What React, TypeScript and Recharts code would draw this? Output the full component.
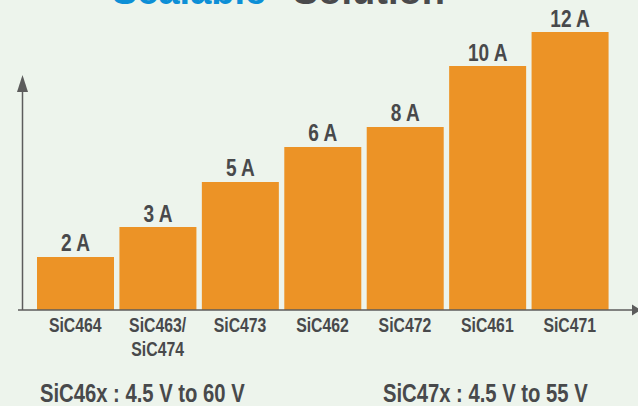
import React from "react";
import { BarChart, Bar, XAxis, YAxis, LabelList } from "recharts";

const categories = ["SiC464", "SiC463/SiC474", "SiC473", "SiC462", "SiC472", "SiC461", "SiC471"];
const currentLabels = ["2 A", "3 A", "5 A", "6 A", "8 A", "10 A", "12 A"];
// visual bar heights as drawn in the reference (relative units, tallest = 12)
const barHeights = [2.29, 3.58, 5.53, 7.04, 7.9, 10.53, 12];
const titleWords = ["Scalable", "Solution"];
const rangeNotes = ["SiC46x : 4.5 V to 60 V", "SiC47x : 4.5 V to 55 V"];

const data = categories.map((c, i) => ({ name: c, height: barHeights[i], label: currentLabels[i] }));

const FONT = "'Liberation Sans', Arial, sans-serif";
const SX = 0.81; // horizontal condensing of the bold sans
const TEXT = "#48494b";
const BG = "#edf4ec";
const BAR = "#ec9326";
const AXIS = "#5c5c5c";

const W = 638;
const H = 406;

function Narrow(props: { x: number; y: number; size: number; anchor?: string; children: any }) {
  const { x, y, size, anchor = "middle", children } = props;
  return (
    <text
      transform={`translate(${x},${y}) scale(${SX},1)`}
      x={0}
      y={0}
      textAnchor={anchor as any}
      fill={TEXT}
      fontFamily={FONT}
      fontWeight="bold"
      fontSize={size}
    >
      {children}
    </text>
  );
}

function Tick(props: any) {
  const { x, y, payload } = props;
  const v: string = payload.value;
  const idx = v.indexOf("/");
  const lines = idx >= 0 ? [v.slice(0, idx + 1), v.slice(idx + 1)] : [v];
  return (
    <g>
      {lines.map((l, i) => (
        <Narrow key={i} x={x} y={y + 13.5 + i * 24} size={19.5}>
          {l}
        </Narrow>
      ))}
    </g>
  );
}

function BarLabel(props: any) {
  const { x, y, width, value } = props;
  return (
    <Narrow x={Number(x) + Number(width) / 2} y={Number(y) - 5.5} size={23.5}>
      {value}
    </Narrow>
  );
}

export default function App() {
  return (
    <div style={{ position: "fixed", left: 0, top: 0, width: W, height: H, background: BG, overflow: "hidden" }}>
      <BarChart
        width={W}
        height={H}
        data={data}
        margin={{ top: 32, right: 27, bottom: 66, left: 34 }}
      >
        <XAxis dataKey="name" axisLine={false} tickLine={false} height={30} tick={<Tick />} interval={0} />
        <YAxis hide domain={[0, 12]} />
        <Bar dataKey="height" fill={BAR} barSize={77} isAnimationActive={false}>
          <LabelList dataKey="label" content={<BarLabel />} />
        </Bar>
      </BarChart>
      <svg
        width={W}
        height={H}
        style={{ position: "absolute", left: 0, top: 0, pointerEvents: "none" }}
      >
        <text x={112} y={4} fill="#0d8fd6" fontFamily={FONT} fontWeight="bold" fontSize={38}>
          {titleWords[0]}
        </text>
        <text x={293} y={4} fill="#4a4a4c" fontFamily={FONT} fontWeight="bold" fontSize={38}>
          {titleWords[1]}
        </text>
        {/* y axis */}
        <line x1={22.5} y1={88} x2={22.5} y2={310} stroke={AXIS} strokeWidth={1.5} />
        <polygon points="22.5,75 17,92 28,92" fill={AXIS} />
        {/* x axis */}
        <line x1={18} y1={310} x2={634} y2={310} stroke={AXIS} strokeWidth={1.5} />
        <polygon points="641,310 632,304.5 632,315.5" fill={AXIS} />
        <Narrow x={40} y={402} size={25} anchor="start">
          {rangeNotes[0]}
        </Narrow>
        <Narrow x={383} y={402} size={25} anchor="start">
          {rangeNotes[1]}
        </Narrow>
      </svg>
    </div>
  );
}
